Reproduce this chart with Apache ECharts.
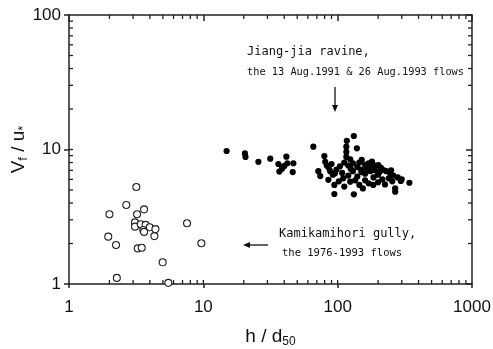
<!DOCTYPE html>
<html>
<head>
<meta charset="utf-8">
<script src="https://cdn.jsdelivr.net/npm/echarts@6/dist/echarts.min.js"></script>
<style>
html,body{margin:0;padding:0;background:#fff;}
#chart{width:493px;height:349px;}
</style>
</head>
<body>
<div id="chart"></div>
<script>
// Jiang-jia ravine (filled dots): [h/d50, Vf/u*]
var jiangjia = [
    [14.9, 9.75], [20.4, 9.35], [20.6, 8.8], [25.7, 8.1], [31.5, 8.55], [41.5, 8.85],
    [36.2, 7.8], [38.5, 7.2], [40.1, 7.55], [42.2, 7.9], [46.8, 7.9], [36.8, 6.85],
    [46.3, 6.8], [39.0, 7.4],
    [65.9, 10.5], [79.6, 8.95], [80.8, 8.1], [83, 7.6], [86, 7.3], [90, 7.8],
    [71.8, 6.9], [74.2, 6.35], [85.3, 5.95], [94.5, 5.45], [94.5, 4.67], [88, 6.9],
    [92, 6.5], [98, 7.1], [95.5, 6.65], [110, 6.1], [104, 7.5],
    [117, 11.6], [132, 12.6], [116, 10.5], [116, 9.6], [116, 8.8], [139, 10.2],
    [124, 8.45], [112, 8.0], [120, 7.6],
    [151, 8.36], [180, 8.12], [201, 7.67], [219, 7.04], [246, 6.65], [295, 5.83],
    [342, 5.66], [268, 5.14], [268, 4.86], [132, 4.64], [154, 5.14], [184, 5.45],
    [124, 5.76], [130, 7.9], [140, 7.4], [145, 8.0], [160, 7.7], [165, 7.2],
    [170, 7.9], [190, 7.6], [210, 7.3], [230, 6.9], [160, 6.6], [175, 6.9],
    [200, 6.5], [185, 6.2], [150, 6.8], [140, 6.3], [130, 6.9], [120, 6.4],
    [135, 5.9], [160, 5.9], [215, 6.0], [240, 6.1], [255, 5.8], [225, 5.5],
    [200, 5.7], [145, 5.45], [170, 5.6], [280, 6.2], [300, 6.0], [260, 6.4],
    [190, 7.0], [125, 7.2], [108, 6.7], [102, 5.8], [112, 5.3], [150, 7.1],
    [175, 7.5], [205, 6.8], [250, 7.0]
];
// Kamikamihori gully (open circles)
var kamikamihori = [
    [3.17, 5.26], [2.67, 3.87], [2.0, 3.3], [3.62, 3.59], [3.21, 3.3], [3.10, 2.87],
    [3.10, 2.67], [3.42, 2.78], [3.72, 2.75], [3.99, 2.64], [4.40, 2.56], [3.57, 2.52],
    [3.62, 2.44], [4.32, 2.27], [1.96, 2.25], [2.24, 1.95], [3.25, 1.84], [3.48, 1.86],
    [7.56, 2.83], [9.67, 2.01], [4.98, 1.45], [2.27, 1.11], [5.49, 1.02]
];
var xMinor = [2, 3, 4, 5, 6, 7, 8, 9, 20, 30, 40, 50, 60, 70, 80, 90, 200, 300, 400, 500, 600, 700, 800, 900];
var yMinor = [2, 3, 4, 5, 6, 7, 8, 9, 20, 30, 40, 50, 60, 70, 80, 90];
var xMajorInner = [10, 100];
var yMajorInner = [10];

var axisColor = '#222';
var myChart = echarts.init(document.getElementById('chart'));

var option = {
    backgroundColor: '#fff',
    animation: false,
    grid: { left: 69, right: 21, top: 15, bottom: 65, outerBoundsMode: 'none' },
    xAxis: [
        {
            type: 'log', logBase: 10, min: 1, max: 1000,
            name: '{a|h / d}{s|50}',
            nameLocation: 'middle', nameGap: 42,
            nameTextStyle: {
                rich: {
                    a: { fontFamily: 'Liberation Sans', fontSize: 19, color: '#111' },
                    s: { fontFamily: 'Liberation Sans', fontSize: 12, color: '#111', padding: [10, 0, 0, 0] }
                }
            },
            axisLine: { lineStyle: { color: axisColor, width: 1.5 } },
            axisTick: { inside: false, length: 4, lineStyle: { color: axisColor, width: 1.5 } },
            axisLabel: {
                margin: 15, fontFamily: 'Liberation Sans', fontSize: 17, color: '#111',
                formatter: function (v) { return String(v); }
            },
            splitLine: { show: false }
        },
        {
            type: 'log', logBase: 10, min: 1, max: 1000, position: 'top',
            axisLine: { lineStyle: { color: axisColor, width: 1.5 } },
            axisTick: { inside: true, length: 6, lineStyle: { color: axisColor, width: 1.5 } },
            axisLabel: { show: false },
            splitLine: { show: false }
        }
    ],
    yAxis: [
        {
            type: 'log', logBase: 10, min: 1, max: 100,
            name: '{a|V}{s|f}{a| / u}{s|*}',
            nameLocation: 'middle', nameGap: 39,
            nameMoveOverlap: false,
            nameTextStyle: {
                rich: {
                    a: { fontFamily: 'Liberation Sans', fontSize: 19, color: '#111' },
                    s: { fontFamily: 'Liberation Sans', fontSize: 13, color: '#111', padding: [10, 0, 0, 0] }
                }
            },
            axisLine: { lineStyle: { color: axisColor, width: 1.5 } },
            axisTick: { inside: false, length: 5, lineStyle: { color: axisColor, width: 1.5 } },
            axisLabel: {
                margin: 8, fontFamily: 'Liberation Sans', fontSize: 17, color: '#111',
                formatter: function (v) { return String(v); }
            },
            splitLine: { show: false }
        },
        {
            type: 'log', logBase: 10, min: 1, max: 100, position: 'right',
            axisLine: { lineStyle: { color: axisColor, width: 1.5 } },
            axisTick: { inside: true, length: 6, lineStyle: { color: axisColor, width: 1.5 } },
            axisLabel: { show: false },
            splitLine: { show: false }
        }
    ],
    series: [
        {
            name: 'Kamikamihori gully',
            type: 'scatter',
            symbol: 'circle',
            symbolSize: 7,
            itemStyle: { color: '#fff', borderColor: '#222', borderWidth: 1.1, opacity: 1 },
            data: kamikamihori,
            z: 3
        },
        {
            name: 'Jiang-jia ravine',
            type: 'scatter',
            symbol: 'circle',
            symbolSize: 6.2,
            itemStyle: { color: '#000', opacity: 1 },
            data: jiangjia,
            z: 3
        }
    ]
};
myChart.setOption(option);

// minor ticks (log 2..9) and inner half of major ticks, placed through the axes' own scale
var graphics = [];
function tick(x, y, dx, dy) {
    var p = myChart.convertToPixel({ xAxisIndex: 0, yAxisIndex: 0 }, [x, y]);
    graphics.push({
        type: 'line', silent: true,
        shape: { x1: p[0], y1: p[1], x2: p[0] + dx, y2: p[1] + dy },
        style: { stroke: axisColor, lineWidth: 1.3 }
    });
}
xMinor.forEach(function (v) {
    tick(v, 1, 0, -4);
    tick(v, 100, 0, 4);
});
yMinor.forEach(function (v) {
    tick(1, v, 4, 0);
    tick(1000, v, -4, 0);
});
xMajorInner.forEach(function (v) { tick(v, 1, 0, -4); });
yMajorInner.forEach(function (v) { tick(1, v, 4, 0); });

graphics.push(
    {
        type: 'text', left: 247, top: 46,
        style: { text: 'Jiang-jia ravine,', font: '12px "DejaVu Sans Mono"', fill: '#111' }
    },
    {
        type: 'text', left: 247, top: 67,
        style: { text: 'the 13 Aug.1991 & 26 Aug.1993 flows', font: '10.3px "DejaVu Sans Mono"', fill: '#111' }
    },
    {
        type: 'line', shape: { x1: 335, y1: 87, x2: 335, y2: 106 },
        style: { stroke: '#111', lineWidth: 1.3 }
    },
    {
        type: 'polygon', shape: { points: [[332, 105], [338, 105], [335, 112]] },
        style: { fill: '#111' }
    },
    {
        type: 'text', left: 279, top: 228,
        style: { text: 'Kamikamihori gully,', font: '12px "DejaVu Sans Mono"', fill: '#111' }
    },
    {
        type: 'text', left: 282, top: 248,
        style: { text: 'the 1976-1993 flows', font: '10.5px "DejaVu Sans Mono"', fill: '#111' }
    },
    {
        type: 'line', shape: { x1: 249, y1: 245, x2: 268, y2: 245 },
        style: { stroke: '#111', lineWidth: 1.3 }
    },
    {
        type: 'polygon', shape: { points: [[250, 242], [250, 248], [243, 245]] },
        style: { fill: '#111' }
    }
);
myChart.setOption({ graphic: graphics });
</script>
</body>
</html>
